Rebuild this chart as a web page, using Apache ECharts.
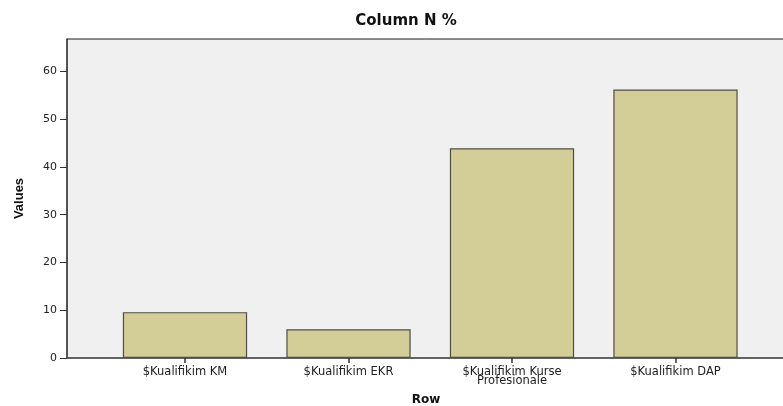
<!DOCTYPE html>
<html>
<head>
<meta charset="utf-8">
<script src="https://cdn.jsdelivr.net/npm/echarts@6/dist/echarts.min.js"></script>
<style>
html,body{margin:0;padding:0;background:#fff;}
#chart{width:783px;height:406px;}
</style>
</head>
<body>
<div id="chart"></div>
<script>
var titleText = "Column N %";
var categories = ["$Kualifikim KM", "$Kualifikim EKR", "$Kualifikim Kurse\nProfesionale", "$Kualifikim DAP"];
var values = [9.6, 6.0, 43.9, 56.2];
var yTicks = [0, 10, 20, 30, 40, 50, 60];
var yMax = 66.8;
var xName = "Row";
var yName = "Values";

var chart = echarts.init(document.getElementById('chart'), null, {renderer: 'canvas'});
chart.setOption({
  animation: false,
  backgroundColor: '#ffffff',
  title: {
    text: titleText,
    left: 401,
    top: 9,
    textAlign: 'center',
    textStyle: {fontFamily: 'DejaVu Sans', fontWeight: 'bold', fontSize: 15, color: '#111'}
  },
  grid: [
    {left: 67, right: -2, top: 39, bottom: 48, outerBoundsMode: 'none', containLabel: false, show: true, backgroundColor: '#f0f0f0', borderColor: '#1a1a1a', borderWidth: 1},
    {left: 103.25, right: 25.75, top: 39, bottom: 48, outerBoundsMode: 'none', containLabel: false}
  ],
  xAxis: [
    {
      gridIndex: 0, type: 'value', min: 0, max: 1,
      name: xName, nameLocation: 'middle', nameGap: 36,
      nameTextStyle: {fontFamily: 'DejaVu Sans', fontWeight: 'bold', fontSize: 12, color: '#111'},
      axisLine: {show: true, lineStyle: {color: '#555', width: 1.5}},
      axisTick: {show: false}, axisLabel: {show: false}, splitLine: {show: false}
    },
    {
      gridIndex: 1, type: 'category', data: categories,
      axisLine: {show: false},
      axisTick: {show: true, alignWithLabel: true, length: 5, lineStyle: {color: '#333', width: 1.5}},
      axisLabel: {show: true, interval: 0, margin: 9, fontFamily: 'DejaVu Sans', fontSize: 11.5, color: '#222', lineHeight: 9.5},
      splitLine: {show: false}
    }
  ],
  yAxis: [
    {
      gridIndex: 0, type: 'value', min: 0, max: yMax, interval: 10,
      name: yName, nameLocation: 'middle', nameGap: 41, nameRotate: 90,
      nameTextStyle: {fontFamily: 'Liberation Sans', fontWeight: 'bold', fontSize: 13, color: '#111'},
      axisLine: {show: true, lineStyle: {color: '#444', width: 1.5}},
      axisTick: {show: true, length: 7, customValues: yTicks, lineStyle: {color: '#333', width: 1}},
      axisLabel: {
        show: true, margin: 10, fontFamily: 'DejaVu Sans', fontSize: 11, color: '#222',
        customValues: yTicks
      },
      splitLine: {show: false}
    },
    {
      gridIndex: 1, type: 'value', min: 0, max: yMax, show: false
    }
  ],
  series: [{
    type: 'bar',
    xAxisIndex: 1, yAxisIndex: 1,
    data: values,
    barWidth: '76%',
    itemStyle: {color: '#d3ce97', borderColor: '#4e4e42', borderWidth: 1.2}
  }]
});
</script>
</body>
</html>
